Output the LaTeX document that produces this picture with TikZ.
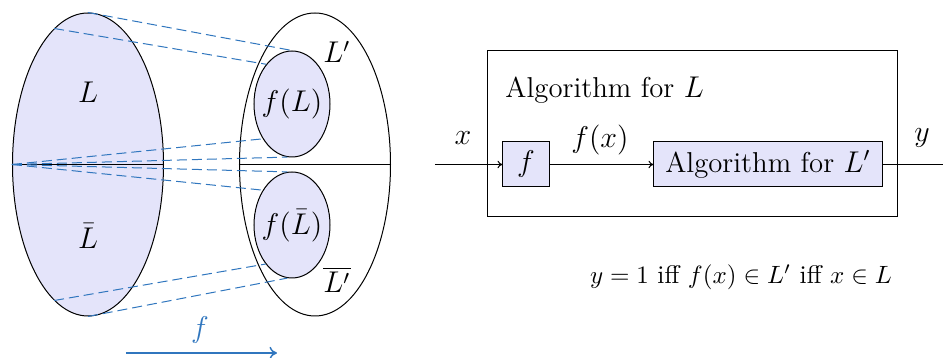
\documentclass[tikz,border=0pt]{standalone}
\usetikzlibrary{shapes.geometric,arrows.meta}
\definecolor{fillc}{RGB}{228,228,250}
\definecolor{linkc}{RGB}{48,118,190}
\begin{document}
\begin{tikzpicture}[x=0.4pt,y=-0.4pt,
  bigell/.style={ellipse,draw,inner sep=0pt,minimum width=60.4pt,minimum height=121.2pt},
  smallell/.style={ellipse,draw,fill=fillc,inner sep=0pt,minimum width=30.4pt,minimum height=42.4pt},
  link/.style={linkc,thin,dash pattern=on 4pt off 2pt},
  box/.style={draw,fill=fillc,inner sep=0pt,minimum height=18pt,font=\fontsize{11.5}{13}\selectfont},
  lbl/.style={font=\large},
  flow/.style={-{To[length=2pt,width=3pt]},thin}]
\useasboundingbox (0,0) rectangle (943,358);
% left diagram
\node[bigell,fill=fillc] (L) at (88,164.5) {};
\node[bigell] (R) at (315,164.5) {};
\node[smallell] (fL) at (292,104) {};
\node[smallell] (fLb) at (292,225) {};
\draw (L.west) -- (L.east);
\draw (R.west) -- (R.east);
\draw[link] (L.90) -- (fL.90);
\draw[link] (L.104) -- (fL.123);
\draw[link] (L.180) -- (fL.230);
\draw[link] (L.180) -- (fL.265);
\draw[link] (L.180) -- (fLb.95);
\draw[link] (L.180) -- (fLb.130);
\draw[link] (L.256) -- (fLb.236);
\draw[link] (L.270) -- (fLb.265);
\node[lbl] (tfL) at (292,104) {$f(L)$};
\node[lbl] (tfLb) at (292,226) {$f(\bar{L})$};
\node[lbl] (tL) at (88,92) {$L$};
\node[lbl] (tLb) at (88,236) {$\bar{L}$};
\node[lbl] (tLp) at (337,52) {$L'$};
\node[lbl] (tLpb) at (337,280) {$\overline{L'}$};
\coordinate (fa) at (126,353);
\coordinate (fb) at (277,353);
\draw[linkc,semithick,-{To[length=3pt,width=5pt]}] (fa) -- (fb);
\node[lbl,text=linkc] (tf) at (200,330) {$f$};
% right diagram
\node[draw,minimum width=163.6pt,minimum height=66.4pt,inner sep=0pt] (outer) at (692.5,134) {};
\node[anchor=west,inner sep=0pt,font=\fontsize{11.5}{13}\selectfont] (talg) at (505,90) {Algorithm for $L$};
\node[box,minimum width=18.4pt] (fbox) at (526,164.5) {$f$};
\node[box,minimum width=91.2pt] (abox) at (768,164.5) {Algorithm for $L'$};
\coordinate (in) at (435,164.5);
\coordinate (out) at (943,164.5);
\draw[flow] (in) -- (fbox);
\draw[flow] (fbox) -- (abox);
\draw (abox) -- (out);
\node[lbl] (tx) at (463,138) {$x$};
\node[lbl] (tfx) at (600,140) {$f(x)$};
\node[lbl] (ty) at (922,138) {$y$};
\node[font=\fontsize{10.2}{12}\selectfont] (eq) at (741,277) {$y=1$ iff $f(x)\in L'$ iff $x\in L$};
\end{tikzpicture}
\end{document}
